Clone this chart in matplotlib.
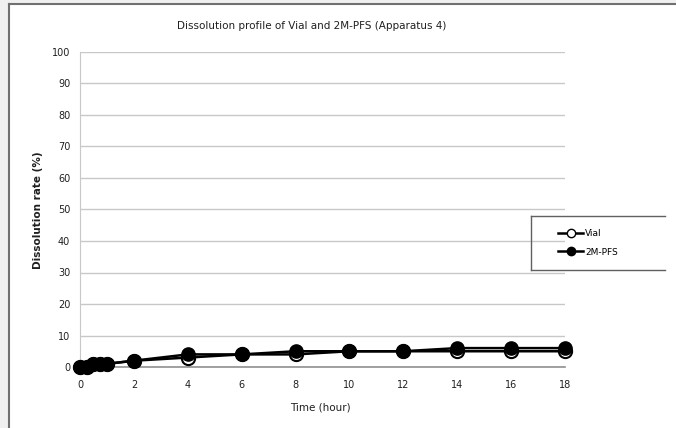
import matplotlib
matplotlib.use("Agg")
import matplotlib.pyplot as plt
from matplotlib.lines import Line2D
from matplotlib.patches import Rectangle

time_h = [0, 0.25, 0.5, 0.75, 1, 2, 4, 6, 8, 10, 12, 14, 16, 18]
vial = [0, 0, 1, 1, 1, 2, 3, 4, 4, 5, 5, 5, 5, 5]
pfs = [0, 0, 1, 1, 1, 2, 4, 4, 5, 5, 5, 6, 6, 6]
xticks = [0, 2, 4, 6, 8, 10, 12, 14, 16, 18]
yticks = list(range(0, 101, 10))

W, H = 676, 428
fig = plt.figure(figsize=(W / 100, H / 100), dpi=100)
fig.patch.set_facecolor("#f0f0f0")

# white panel with frame
fig.add_artist(Rectangle((9 / W, 0), 1, 1 - 4 / H, transform=fig.transFigure,
                         facecolor="white", edgecolor="none", zorder=0))
fig.add_artist(Line2D([9 / W, 9 / W], [0, 1 - 4 / H], transform=fig.transFigure,
                      color="#707070", lw=1.5))
fig.add_artist(Line2D([9 / W, 1], [1 - 4 / H, 1 - 4 / H], transform=fig.transFigure,
                      color="#707070", lw=1.5))

ax = fig.add_axes([80 / W, 1 - 367 / H, (565 - 80) / W, (367 - 52) / H])
ax.set_facecolor("none")

ax.plot(time_h, vial, color="black", lw=1.8, marker="o", ms=9.5,
        mfc="white", mec="black", mew=1.5, zorder=3, clip_on=False)
ax.plot(time_h, pfs, color="black", lw=1.8, marker="o", ms=9.5,
        mfc="black", mec="black", zorder=4, clip_on=False)

ax.set_xlim(0, 18)
ax.set_ylim(0, 100)
ax.set_xticks(xticks)
ax.set_yticks(yticks)
ax.grid(axis="y", color="#c8c8c8", lw=1)
ax.set_axisbelow(True)
for s in ["top", "right"]:
    ax.spines[s].set_visible(False)
ax.spines["left"].set_color("#c8c8c8")
ax.spines["bottom"].set_color("#909090")
ax.spines["bottom"].set_linewidth(1.2)
ax.tick_params(axis="both", length=0, labelsize=7, colors="#202020")
ax.tick_params(axis="x", pad=9)
ax.tick_params(axis="y", pad=7)

ax.set_xlabel("Time (hour)", fontsize=7.5, color="#202020")
ax.xaxis.set_label_coords((320 - 80) / 485, -(402 - 367) / 315)
ax.set_ylabel("Dissolution rate (%)", fontsize=7.5, fontweight="bold",
              color="#202020")
ax.yaxis.set_label_coords((43 - 80) / 485, (367 - 210) / 315)

fig.text(312 / W, 1 - 26 / H, "Dissolution profile of Vial and 2M-PFS (Apparatus 4)",
         ha="center", va="center", fontsize=7.5, color="#202020")

# legend box (open on the right)
lx0, lx1, ly0, ly1 = 531 / W, 665 / W, 1 - 216 / H, 1 - 270 / H
for xs, ys in [([lx0, lx1], [ly0, ly0]), ([lx0, lx1], [ly1, ly1]), ([lx0, lx0], [ly0, ly1])]:
    fig.add_artist(Line2D(xs, ys, transform=fig.transFigure, color="#606060", lw=1))
handles = [Line2D([], [], color="black", lw=1.8, marker="o", ms=6, mfc="white", mec="black"),
           Line2D([], [], color="black", lw=1.8, marker="o", ms=6, mfc="black", mec="black")]
fig.legend(handles, ["Vial", "2M-PFS"], loc="center left",
           bbox_to_anchor=(550 / W, 1 - 243 / H), frameon=False, fontsize=6.5,
           handlelength=2.8, handletextpad=0.2, labelspacing=1.0)

fig.savefig("out.png", dpi=100)
